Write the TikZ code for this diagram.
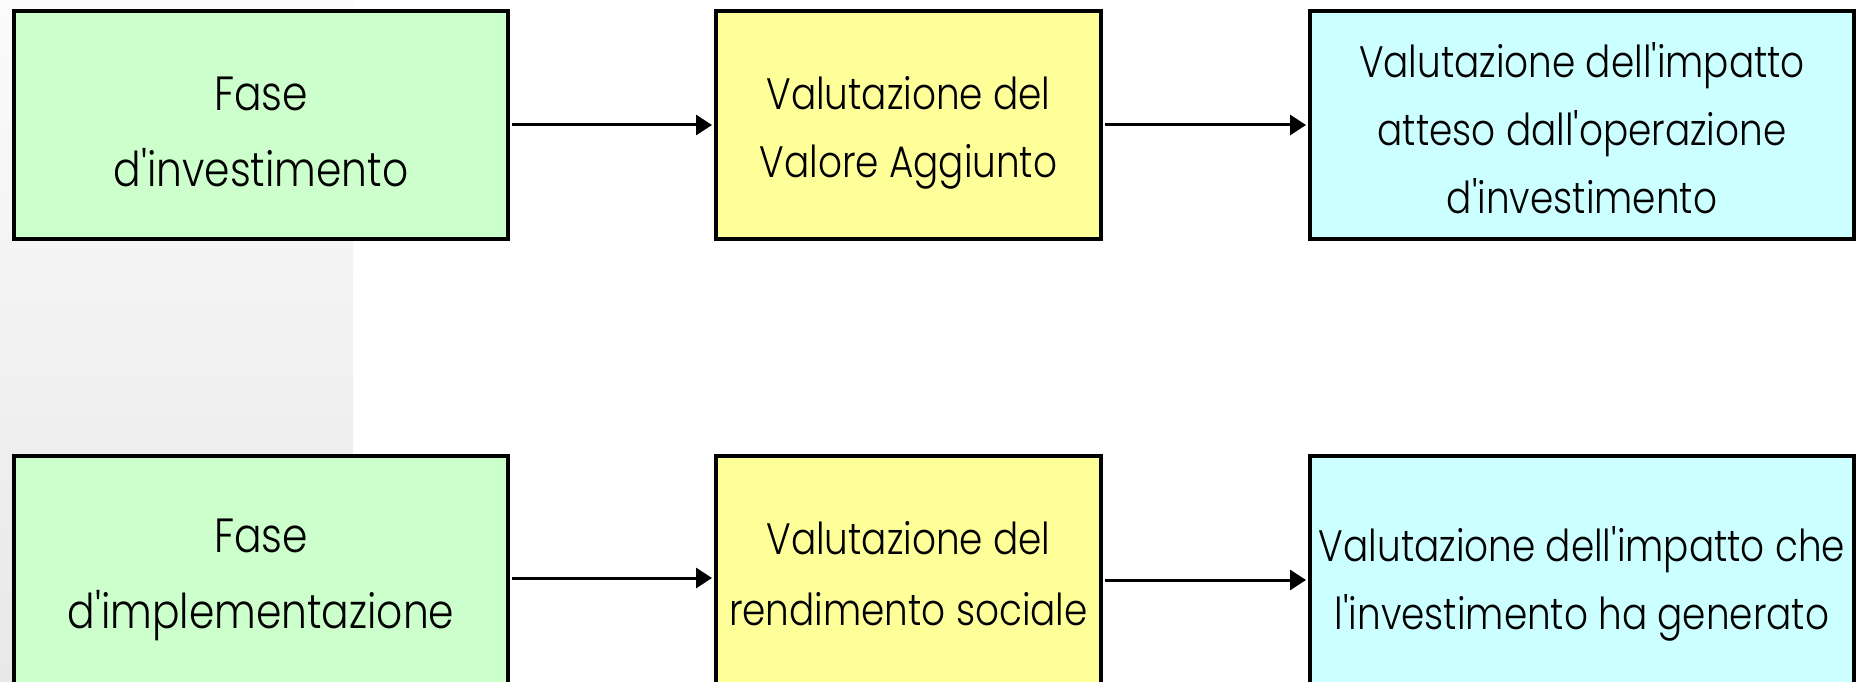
\documentclass[tikz,border=0pt]{standalone}
\usepackage{fontspec}
\setmainfont{Poppins}[UprightFont=* Light, FakeStretch=0.85, Ligatures=TeXOff]
\usetikzlibrary{arrows.meta}
\definecolor{boxgreen}{RGB}{204,255,204}
\definecolor{boxyellow}{RGB}{255,255,153}
\definecolor{boxcyan}{RGB}{204,255,255}
\definecolor{bgtop}{RGB}{251,251,251}
\definecolor{bgbot}{RGB}{232,232,232}
\begin{document}
\begin{tikzpicture}[x=1pt,y=-1pt,
  box/.style={draw=black, line width=4pt, inner sep=0pt},
  boxtext/.style={align=center, inner sep=0pt},
  greentext/.style={boxtext, font=\fontsize{48}{76}\selectfont},
  othertext/.style={boxtext, font=\fontsize{44}{68}\selectfont},
  arr/.style={line width=3pt, -{Triangle[length=16pt,width=20pt]}, shorten >=2pt, shorten <=2pt}]
\useasboundingbox (0,0) rectangle (1860,682);
\clip (0,0) rectangle (1860,682);
\fill[white] (0,0) rectangle (1860,682);
\shade[top color=bgtop, bottom color=bgbot] (0,0) rectangle (353,682);
% top row boxes
\node[box, fill=boxgreen, minimum width=494pt, minimum height=228pt] (g1) at (261,125) {};
\node[box, fill=boxyellow, minimum width=385pt, minimum height=228pt] (y1) at (908.5,125) {};
\node[box, fill=boxcyan, minimum width=544pt, minimum height=228pt] (c1) at (1582,125) {};
% bottom row boxes
\node[box, fill=boxgreen, minimum width=494pt, minimum height=244pt] (g2) at (261,578) {};
\node[box, fill=boxyellow, minimum width=385pt, minimum height=244pt] (y2) at (908.5,578) {};
\node[box, fill=boxcyan, minimum width=544pt, minimum height=244pt] (c2) at (1582,578) {};
% texts
\node[greentext, yshift=-7pt] (g1t) at (g1.center) {Fase\\d'investimento};
\node[othertext, yshift=-8pt] (y1t) at (y1.center) {Valutazione del\\Valore Aggiunto};
\node[othertext, yshift=-3pt] (c1t) at (c1.center) {Valutazione dell'impatto\\atteso dall'operazione\\d'investimento};
\node[greentext, yshift=-2pt] (g2t) at (g2.center) {Fase\\d'implementazione};
\node[othertext, yshift=4pt, font=\fontsize{44}{71}\selectfont] (y2t) at (y2.center) {Valutazione del\\rendimento sociale};
\node[othertext, yshift=-6pt] (c2t) at (c2.center) {Valutazione dell'impatto che\\l'investimento ha generato};
% arrows
\draw[arr] (g1.east) -- (y1.west);
\draw[arr] (y1.east) -- (c1.west);
\draw[arr] (g2.east) -- (y2.west);
\draw[arr] ([yshift=-2pt]y2.east) -- ([yshift=-2pt]c2.west);
\end{tikzpicture}
\end{document}
